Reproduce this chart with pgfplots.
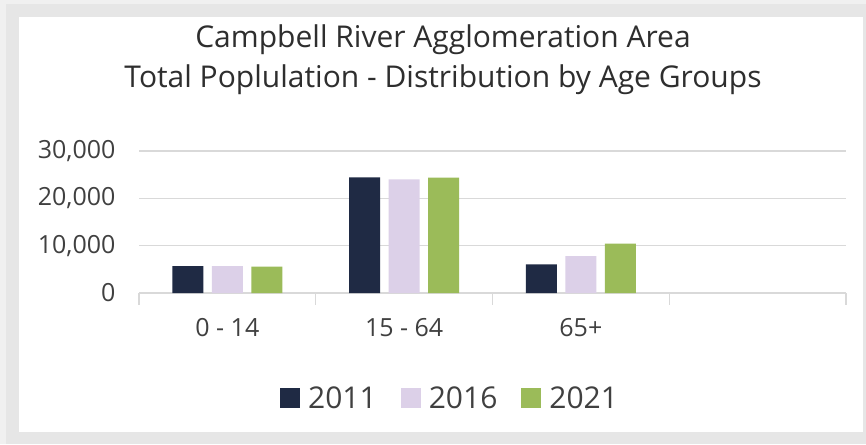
\documentclass[border=0pt]{standalone}
\usepackage{pgfplots}
\pgfplotsset{compat=1.18}
\usepackage{fontspec}
\setmainfont{Open Sans}
\definecolor{c11}{HTML}{1F2A44}
\definecolor{c16}{HTML}{DCD0E8}
\definecolor{c21}{HTML}{9BBB59}
\definecolor{gridc}{HTML}{D9D9D9}
\definecolor{outerg}{HTML}{F0F0F0}
\definecolor{innerg}{HTML}{E6E6E6}
\definecolor{txt}{HTML}{404040}
\begin{document}
\begin{tikzpicture}[x=1pt,y=1pt]
\fill[outerg] (0,0) rectangle (866,444);
\fill[innerg] (6,0) rectangle (866,440);
\fill[white] (19,12) rectangle (863,427);
\node[anchor=base, font=\fontsize{30}{34}\selectfont, text=black!82, inner sep=0pt] at (443,396) {Campbell River Agglomeration Area};
\node[anchor=base, font=\fontsize{30}{34}\selectfont, text=black!82, inner sep=0pt] at (443,356) {Total Poplulation - Distribution by Age Groups};
\begin{axis}[at={(139pt,151pt)}, anchor=south west, width=707pt, height=142pt, scale only axis,
  ybar, bar width=31pt, ybar=8.5pt,
  xmin=-0.5, xmax=3.5, ymin=0, ymax=30000,
  xtick={0,1,2,3}, xticklabels={0 - 14, 15 - 64, 65+, {}},
  minor xtick={-0.5,0.5,1.5,2.5,3.5},
  ytick={0,10000,20000,30000},
  scaled y ticks=false,
  yticklabel style={/pgf/number format/fixed, /pgf/number format/1000 sep={,}},
  /pgf/number format/assume math mode=true,
  axis x line*=bottom, axis y line*=left,
  y axis line style={draw=none},
  x axis line style={gridc, line width=1.3pt},
  ymajorgrids, grid style={gridc, line width=1.3pt},
  tick align=outside, major tick length=0pt, minor tick length=12pt,
  minor tick style={gridc, line width=1.3pt},
  tick label style={text=txt, font=\fontsize{25}{28}\selectfont},
  yticklabel style={xshift=-20pt},
  xticklabel style={yshift=-22pt},
  legend style={at={(0.440,-0.739)}, anchor=center, draw=none, fill=none,
    legend columns=3, font=\fontsize{30}{32}\selectfont, text=txt,
    /tikz/every even column/.append style={column sep=22pt}},
  legend image code/.code={\fill[#1,draw=none] (0pt,-10pt) rectangle (20pt,10pt); \path (26pt,0pt);},
]
\addplot[fill=c11, draw=none] coordinates {(0,5700) (1,24450) (2,6050)};
\addplot[fill=c16, draw=none] coordinates {(0,5700) (1,24000) (2,7800)};
\addplot[fill=c21, draw=none] coordinates {(0,5550) (1,24400) (2,10450)};
\legend{2011,2016,2021}
\end{axis}
\end{tikzpicture}
\end{document}
